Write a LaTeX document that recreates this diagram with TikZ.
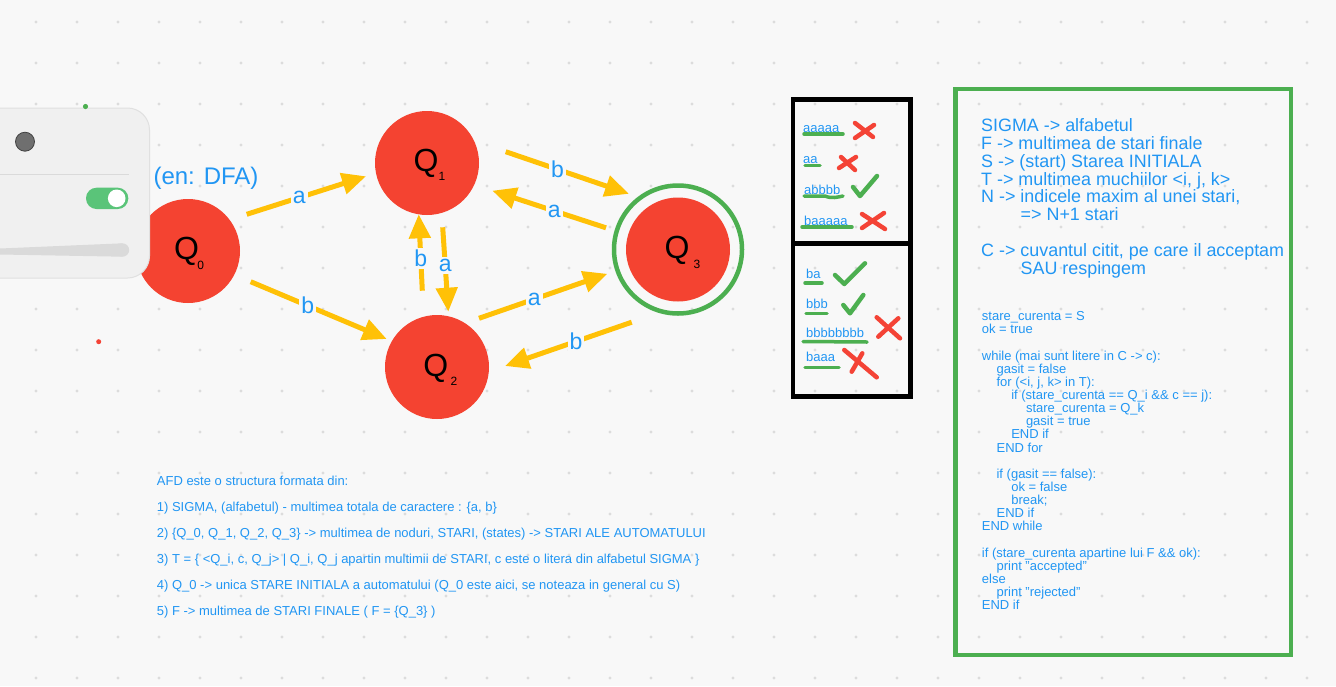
\documentclass[tikz,border=0pt]{standalone}
\usepackage{fontspec}
\setmainfont{Liberation Sans}
\usetikzlibrary{arrows.meta,calc}
\definecolor{bg}{HTML}{F8F8F8}
\definecolor{griddot}{HTML}{DCDCDC}
\definecolor{qred}{HTML}{F44331}
\definecolor{amber}{HTML}{FFC107}
\definecolor{mblue}{HTML}{2196F3}
\definecolor{mgreen}{HTML}{4CAF50}
\definecolor{xred}{HTML}{F44336}
\definecolor{panelfill}{HTML}{F0F0F0}
\definecolor{panelline}{HTML}{E0E0E0}
\definecolor{panelgray}{HTML}{DADADA}
\definecolor{togglegreen}{HTML}{5AC479}
\definecolor{knobgray}{HTML}{6F6F6F}
\begin{document}
\begin{tikzpicture}[x=1pt,y=-1pt,
  state/.style={circle, fill=qred, minimum size=104pt, inner sep=0pt},
  qtxt/.style={inner sep=0pt, font=\fontsize{32}{32}\selectfont},
  qsub/.style={inner sep=0pt, font=\fontsize{12}{12}\selectfont},
  arr/.style={draw=amber, line width=5pt, -{Triangle[length=24pt,width=21pt]}},
  lbl/.style={fill=bg, text=mblue, inner sep=2pt, font=\fontsize{23}{23}\selectfont},
  word/.style={anchor=west, inner sep=0pt, text=mblue, font=\fontsize{13}{13}\selectfont},
  uline/.style={draw=mgreen, line width=3.5pt, line cap=round, line join=round},
  cross/.style={draw=xred, line width=4.5pt, line cap=round},
  tick/.style={draw=mgreen, line width=4.5pt, line cap=round, line join=round},
  bluetext/.style={anchor=base west, inner sep=0pt, text=mblue},
]
\useasboundingbox (0,0) rectangle (1336,686);
\fill[bg] (0,0) rectangle (1336,686);
% dot grid
\foreach \i in {0,...,31} \foreach \j in {0,...,16}
  \fill[griddot] (36+41*\i, 22+41*\j) circle[radius=1.6pt];

% states
\node[state] (Q0) at (188,251) {};
\node[state] (Q1) at (427,163) {};
\node[state] (Q2) at (437,367) {};
\node[state] (Q3) at (678,249.5) {};
\draw[mgreen, line width=4.5pt] (Q3.center) circle[radius=64pt];

\node[qtxt] (q0t) at ([shift={(-1.5,0.7)}]Q0.center) {Q};
\node[qsub] (q0s) at ([shift={(12.7,14)}]Q0.center) {0};
\node[qtxt] (q1t) at ([shift={(-1,0.5)}]Q1.center) {Q};
\node[qsub] (q1s) at ([shift={(15,13)}]Q1.center) {1};
\node[qtxt] (q2t) at ([shift={(-1.3,1)}]Q2.center) {Q};
\node[qsub] (q2s) at ([shift={(17,14.7)}]Q2.center) {2};
\node[qtxt] (q3t) at ([shift={(-1,1)}]Q3.center) {Q};
\node[qsub] (q3s) at ([shift={(19,15.3)}]Q3.center) {3};

% transitions
\draw[arr] ([shift={(58.7,-36.7)}]Q0.center) -- node[lbl,pos=0.44] (l01) {a} ([shift={(-61,13.3)}]Q1.center);
\draw[arr] ([shift={(62.7,30.7)}]Q0.center) -- node[lbl,pos=0.42] (l02) {b} ([shift={(-50.3,-28)}]Q2.center);
\draw[arr] ([shift={(15.7,64.3)}]Q1.center) -- node[lbl,pos=0.455] (l12) {a} ([shift={(11.3,-55.3)}]Q2.center);
\draw[arr] ([shift={(-14.7,-76.3)}]Q2.center) -- node[lbl,pos=0.42] (l21) {b} ([shift={(-8.3,51.3)}]Q1.center);
\draw[arr] ([shift={(78.7,-11.3)}]Q1.center) -- node[lbl,pos=0.42] (l13) {b} ([shift={(-49,-55.7)}]Q3.center);
\draw[arr] ([shift={(-72,-21.7)}]Q3.center) -- node[lbl,pos=0.455] (l31) {a} ([shift={(65.3,27.7)}]Q1.center);
\draw[arr] ([shift={(42,-48.7)}]Q2.center) -- node[lbl,pos=0.43] (l23) {a} ([shift={(-70.7,24.3)}]Q3.center);
\draw[arr] ([shift={(-46.3,72.7)}]Q3.center) -- node[lbl,pos=0.44] (l32) {b} ([shift={(68,-1)}]Q2.center);

% left panel
\draw[fill=panelfill, draw=panelline, line width=1pt, rounded corners=22pt] (-40,108) rectangle (149.5,278);
\draw[fill=knobgray, draw=black!75, line width=0.8pt] (25,141.7) circle[radius=9.5pt];
\draw[panelgray, line width=1pt] (0,174.3) -- (129,174.3);
\fill[togglegreen, rounded corners=10.5pt] (86,187.7) rectangle (128.3,209);
\fill[white] (116.7,198.3) circle[radius=8.8pt];
\fill[panelgray] (0,248.5) -- (122.5,243.3) -- (122.5,256.7) -- (0,254.5) -- cycle;
\fill[panelgray] (122.5,250) circle[radius=6.7pt];
\fill[mgreen] (85.5,106.5) circle[radius=2.6pt];
\fill[xred] (98.7,341.7) circle[radius=2.5pt];

\node[text=mblue, inner sep=0pt, font=\fontsize{24}{24}\selectfont] (dfa) at (206,178) {(en: DFA)};

% word test box
\draw[line width=4.5pt] (793,99.5) rectangle (910.5,396.5);
\draw[line width=5pt] (793,243) -- (910.5,243);

\draw[uline] (804,134) -- (843,134);
\node[word] (w1) at (803,129) {aaaaa};
\draw[cross] (855,123) -- (873,137); \draw[cross] (855,138) -- (874,125);
\draw[uline] (805,165.5) -- (820,165.5);
\node[word] (w2) at (803,160) {aa};
\draw[cross] (841,157) -- (855,170); \draw[cross] (839,168) -- (856,157);
\draw[uline] (804,196) -- (825,196) .. controls (832,199) and (838,197) .. (843,196);
\node[word] (w3) at (804,189.5) {abbbb};
\draw[tick] (853,187) -- (860,196) -- (877,176);
\draw[uline] (802,227) -- (852,227);
\node[word] (w4) at (804,221) {baaaaa};
\draw[cross] (862,214) -- (885,229); \draw[cross] (862,228) -- (884,213);

\draw[uline] (805,283) -- (822,283);
\node[word] (w5) at (806,273.5) {ba};
\draw[tick] (835,275) -- (844.3,284) -- (865,263.3);
\draw[uline] (806,313.5) -- (827,313.5);
\node[word] (w6) at (806,303.5) {bbb};
\draw[tick] (843.3,305) -- (850,313.3) -- (863.3,295);
\draw[uline] (803,341.5) -- (867,342);
\node[word] (w7) at (806,332.5) {bbbbbbbb};
\draw[cross] (876.7,317.3) -- (900,338.3); \draw[cross] (878.3,336.7) -- (898.3,318.3);
\draw[uline] (805,367.3) -- (839,367.3);
\node[word] (w8) at (806,356.5) {baaa};
\draw[cross] (844.3,350) -- (876.7,377.3); \draw[cross] (851.7,371.7) -- (862.3,353.3);

% right green box
\draw[mgreen, line width=4.5pt] (955.5,89) rectangle (1291,655);
\foreach \n/\xx/\t in {0/981/{SIGMA -> alfabetul},
  1/981/{F -> multimea de stari finale},
  2/981/{S -> (start) Starea INITIALA},
  3/981/{T -> multimea muchiilor <i, j, k>},
  4/981/{N -> indicele maxim al unei stari,},
  5/1020.5/{=> N+1 stari},
  7/981/{C -> cuvantul citit, pe care il acceptam},
  8/1020.5/{SAU respingem}}
  \node[bluetext, font=\fontsize{17.9}{17.9}\selectfont] (top\n) at (\xx, 131.7+17.8*\n) {\t};

\foreach \n/\lv/\t in {0/0/{stare\_curenta = S},
  1/0/{ok = true},
  3/0/{while (mai sunt litere in C -> c):},
  4/1/{gasit = false},
  5/1/{for (<i, j, k> in T):},
  6/2/{if (stare\_curenta == Q\_i \&\& c == j):},
  7/3/{stare\_curenta = Q\_k},
  8/3/{gasit = true},
  9/2/{END if},
  10/1/{END for},
  12/1/{if (gasit == false):},
  13/2/{ok = false},
  14/2/{break;},
  15/1/{END if},
  16/0/{END while},
  18/0/{if (stare\_curenta apartine lui F \&\& ok):},
  19/1/{print "accepted"},
  20/0/{else},
  21/1/{print "rejected"},
  22/0/{END if}}
  \node[bluetext, font=\fontsize{13}{13}\selectfont] (code\n) at (981.7+14.7*\lv, 320.7+13.14*\n) {\t};

% bottom-left description
\foreach \n/\t in {0/{AFD este o structura formata din:},
  1/{1) SIGMA, (alfabetul) - multimea totala de caractere : \{a, b\}},
  2/{2) \{Q\_0, Q\_1, Q\_2, Q\_3\} -> multimea de noduri, STARI, (states) -> STARI ALE AUTOMATULUI},
  3/{3) T = \{ <Q\_i, c, Q\_j> | Q\_i, Q\_j apartin multimii de STARI, c este o litera din alfabetul SIGMA \}},
  4/{4) Q\_0 -> unica STARE INITIALA a automatului (Q\_0 este aici, se noteaza in general cu S)},
  5/{5) F -> multimea de STARI FINALE ( F = \{Q\_3\} )}}
  \node[bluetext, font=\fontsize{13}{13}\selectfont] (desc\n) at (156.7, 485.7+26*\n) {\t};
\end{tikzpicture}
\end{document}
